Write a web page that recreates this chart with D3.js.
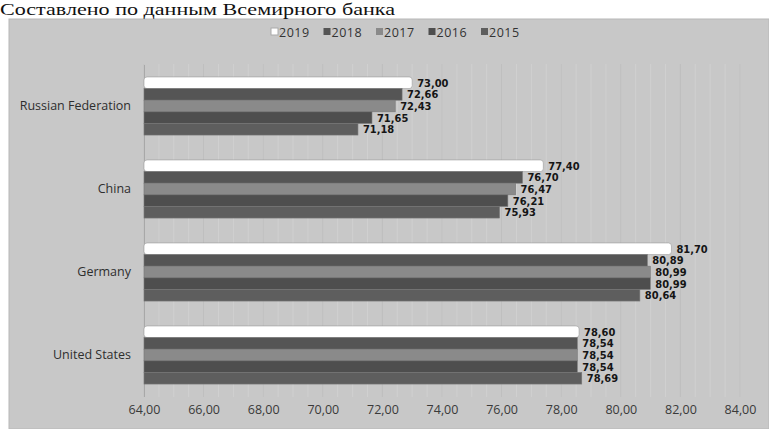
<!DOCTYPE html>
<html><head><meta charset="utf-8">
<script src="https://cdn.jsdelivr.net/npm/d3@7"></script>
<style>html,body{margin:0;padding:0;background:#fff;overflow:hidden}</style>
</head><body>
<svg id="chart" width="769" height="429"></svg>
<script>
const title = "Составлено по данным Всемирного банка";
const countries = ["Russian Federation", "China", "Germany", "United States"];
const years = ["2019", "2018", "2017", "2016", "2015"];
const v2019 = [73.00, 77.40, 81.70, 78.60];
const v2018 = [72.66, 76.70, 80.89, 78.54];
const v2017 = [72.43, 76.47, 80.99, 78.54];
const v2016 = [71.65, 76.21, 80.99, 78.54];
const v2015 = [71.18, 75.93, 80.64, 78.69];
const xTicks = [64, 66, 68, 70, 72, 74, 76, 78, 80, 82, 84];
const colors = ["#ffffff", "#555555", "#8a8a8a", "#4e4e4e", "#5e5e5e"];

const seriesVals = [v2019, v2018, v2017, v2016, v2015];
const svg = d3.select("#chart");
const fmt = v => v.toFixed(2).replace(".", ",");

// chart background
svg.append("rect").attr("x", 9).attr("y", 19).attr("width", 760).attr("height", 410)
  .attr("fill", "#c8c8c8").attr("stroke", "#b8b8b8");

// title
const t = svg.append("text").attr("x", 0).attr("y", 15)
  .attr("font-family", "Liberation Serif, Times New Roman, serif")
  .attr("font-size", 17).attr("fill", "#111").text(title)
  .attr("textLength", 395).attr("lengthAdjust", "spacingAndGlyphs");

const x = d3.scaleLinear().domain([64, 84]).range([144, 740]);
const y = d3.scaleBand().domain(countries).range([64.5, 396.5]).paddingInner(0.3).paddingOuter(0.15);
const yIn = d3.scaleBand().domain(years).range([0, y.bandwidth()]);

// grid lines
const g = svg.append("g");
g.selectAll("line.minor").data(d3.range(64, 84.01, 0.5)).join("line")
  .attr("x1", d => x(d)).attr("x2", d => x(d)).attr("y1", 64).attr("y2", 397)
  .attr("stroke", "#d0d0d0").attr("stroke-width", 1);
g.selectAll("line.major").data(xTicks).join("line")
  .attr("x1", d => x(d)).attr("x2", d => x(d)).attr("y1", 64).attr("y2", 397)
  .attr("stroke", "#bdbdbd").attr("stroke-width", 1);

// x axis labels
const xAxis = d3.axisBottom(x).tickValues(xTicks).tickFormat(fmt).tickSize(0).tickPadding(8);
const ax = svg.append("g").attr("transform", "translate(0,397)").call(xAxis);
ax.select(".domain").remove();
ax.selectAll("text").attr("font-family", "Open Sans, DejaVu Sans, sans-serif")
  .attr("font-size", 12.5).attr("fill", "#3a3a3a");

// y axis labels
const yAxis = d3.axisLeft(y).tickSize(0).tickPadding(13);
const ay = svg.append("g").attr("transform", "translate(144,0)").call(yAxis);
ay.select(".domain").attr("stroke", "#a8a8a8");
ay.selectAll("text").attr("font-family", "Open Sans, DejaVu Sans, sans-serif")
  .attr("font-size", 12.5).attr("fill", "#2e2e2e");

// bars
const data = [];
countries.forEach((c, i) => years.forEach((yr, j) => data.push({c, yr, j, v: seriesVals[j][i]})));
svg.append("g").selectAll("rect").data(data).join("rect")
  .attr("x", x(64)).attr("y", d => y(d.c) + yIn(d.yr))
  .attr("width", d => x(d.v) - x(64)).attr("height", yIn.bandwidth())
  .attr("fill", d => colors[d.j])
  .attr("stroke", d => d.j === 0 ? "#9a9a9a" : "#777").attr("stroke-width", 0.6)
  .attr("rx", d => d.j === 0 ? 3 : 0);

svg.append("g").selectAll("text").data(data).join("text")
  .attr("x", d => x(d.v) + 5).attr("y", d => y(d.c) + yIn(d.yr) + yIn.bandwidth() / 2 + 4)
  .attr("font-family", "DejaVu Sans Condensed, DejaVu Sans, sans-serif").attr("font-weight", "bold")
  .attr("font-size", 11).attr("fill", "#151515").text(d => fmt(d.v));

// legend
const lg = svg.append("g");
years.forEach((yr, j) => {
  const lx = 271 + j * 52.5;
  lg.append("rect").attr("x", lx).attr("y", 28).attr("width", 7).attr("height", 7)
    .attr("fill", colors[j]).attr("stroke", j === 0 ? "#aaa" : "none");
  lg.append("text").attr("x", lx + 8).attr("y", 36.5)
    .attr("font-family", "Open Sans, DejaVu Sans, sans-serif").attr("font-size", 12.5)
    .attr("letter-spacing", 0.5).attr("fill", "#333").text(yr);
});
</script>
</body></html>
